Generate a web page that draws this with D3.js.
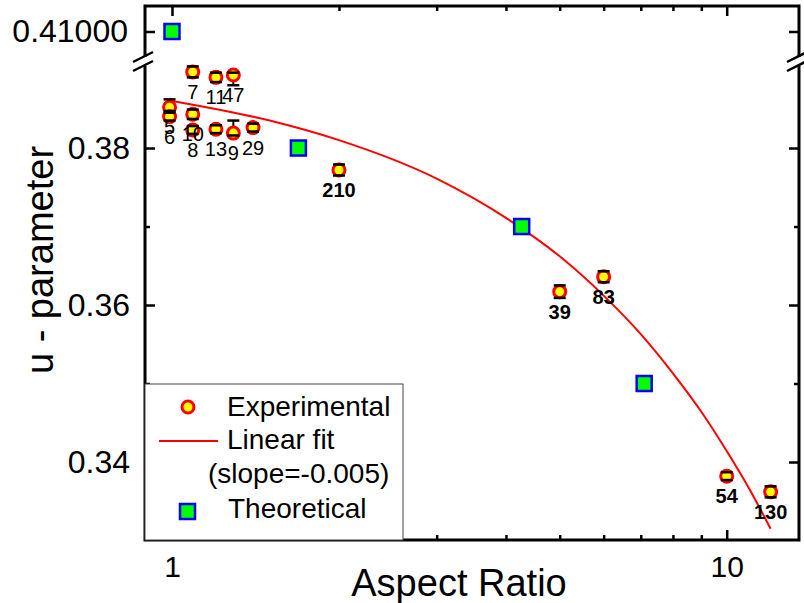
<!DOCTYPE html>
<html>
<head>
<meta charset="utf-8">
<script src="https://cdn.jsdelivr.net/npm/d3@7"></script>
<style>
  body { margin: 0; background: #fff; }
  text { font-family: "Liberation Sans", Arial, sans-serif; fill: #000; }
</style>
</head>
<body>
<svg id="chart" width="804" height="603"></svg>
<script>
// experimental points: aspect ratio, u-parameter, error bars, sample label
const expRatio = [0.99, 0.99, 1.09, 1.09, 1.09, 1.2, 1.29, 1.2, 1.29, 1.4, 2.0, 5.0, 6.0, 10.0, 12.0];
const expU = [0.3852, 0.3840, 0.3843, 0.3823, 0.3897, 0.3890, 0.3893, 0.3824, 0.3819, 0.3826, 0.3772, 0.3617, 0.3636, 0.3382, 0.3362];
const expErrUp = [0.0010, 0.0005, 0.0006, 0.0005, 0.0007, 0.0006, 0.0003, 0.0005, 0.0016, 0.0005, 0.0007, 0.0008, 0.0007, 0.0005, 0.0007];
const expErrDown = [0.0005, 0.0005, 0.0006, 0.0005, 0.0007, 0.0006, 0.0013, 0.0005, 0.0003, 0.0005, 0.0007, 0.0008, 0.0007, 0.0005, 0.0007];
const expLabels = ['5', '6', '10', '8', '7', '11', '47', '13', '9', '29', '210', '39', '83', '54', '130'];

// theoretical points
const theoRatio = [1.0, 1.69, 4.27, 7.1];
const theoU = [0.41, 0.38, 0.37, 0.35];

// linear fit (slope = -0.005)
const fitRatio = [1, 1.5, 2, 3, 4, 5, 6, 7, 8, 9, 10, 11, 12];
const fitU = [0.3860, 0.3835, 0.3810, 0.3761, 0.3711, 0.3662, 0.3612, 0.3563, 0.3513, 0.3464, 0.3414, 0.3365, 0.3315];

const xMajorTicks = [1, 10];
const xMinorTicks = [2, 3, 4, 5, 6, 7, 8, 9];
const yMajorTicks = [0.34, 0.36, 0.38];
const yMinorTicks = [0.35, 0.37];
const yUpperTicks = [0.41];

const svg = d3.select('#chart');
const plotLeft = 145;
const plotRight = 799;
const plotTop = 6;
const plotBottom = 540;
const breakTop = 57;
const breakBottom = 66;

const x = d3.scaleLog().domain([0.894, 13.5]).range([plotLeft, plotRight]);
const yLower = d3.scaleLinear().domain([0.33, 0.3905]).range([plotBottom + 0.5, breakBottom - 0.4]);
const yUpper = d3.scaleLinear().domain([0.4068, 0.4132]).range([breakTop, plotTop]);
const yPos = v => (v > 0.4 ? yUpper(v) : yLower(v));

// ticks (inward), labels on the left and bottom
function cleanAxis(size) {
  return g => {
    g.select('.domain').remove();
    g.selectAll('.tick line').attr('stroke', '#000').attr('stroke-width', 2.5);
    g.selectAll('.tick text').style('font-size', size).attr('fill', '#000');
  };
}
svg.append('g').attr('transform', `translate(0,${plotBottom})`)
  .call(d3.axisBottom(x).tickValues(xMajorTicks).tickFormat(d3.format('d')).tickSizeInner(-10).tickSizeOuter(0).tickPadding(16))
  .call(cleanAxis('30px'));
svg.append('g').attr('transform', `translate(0,${plotBottom})`)
  .call(d3.axisBottom(x).tickValues(xMinorTicks).tickFormat('').tickSizeInner(-5).tickSizeOuter(0))
  .call(cleanAxis('30px'));
svg.append('g').attr('transform', `translate(0,${plotTop})`)
  .call(d3.axisTop(x).tickValues(xMajorTicks).tickFormat('').tickSizeInner(-10).tickSizeOuter(0))
  .call(cleanAxis('30px'));
svg.append('g').attr('transform', `translate(0,${plotTop})`)
  .call(d3.axisTop(x).tickValues(xMinorTicks).tickFormat('').tickSizeInner(-5).tickSizeOuter(0))
  .call(cleanAxis('30px'));

svg.append('g').attr('transform', `translate(${plotLeft},0)`)
  .call(d3.axisLeft(yLower).tickValues(yMajorTicks).tickFormat(d3.format('.2f')).tickSizeInner(-10).tickSizeOuter(0).tickPadding(15))
  .call(cleanAxis('32px'));
svg.append('g').attr('transform', `translate(${plotLeft},0)`)
  .call(d3.axisLeft(yLower).tickValues(yMinorTicks).tickFormat('').tickSizeInner(-5).tickSizeOuter(0))
  .call(cleanAxis('32px'));
svg.append('g').attr('transform', `translate(${plotLeft},0)`)
  .call(d3.axisLeft(yUpper).tickValues(yUpperTicks).tickFormat(d3.format('.5f')).tickSizeInner(-10).tickSizeOuter(0).tickPadding(17))
  .call(cleanAxis('32px'));
svg.append('g').attr('transform', `translate(${plotRight},0)`)
  .call(d3.axisRight(yLower).tickValues(yMajorTicks).tickFormat('').tickSizeInner(-10).tickSizeOuter(0))
  .call(cleanAxis('32px'));
svg.append('g').attr('transform', `translate(${plotRight},0)`)
  .call(d3.axisRight(yLower).tickValues(yMinorTicks).tickFormat('').tickSizeInner(-5).tickSizeOuter(0))
  .call(cleanAxis('32px'));
svg.append('g').attr('transform', `translate(${plotRight},0)`)
  .call(d3.axisRight(yUpper).tickValues(yUpperTicks).tickFormat('').tickSizeInner(-10).tickSizeOuter(0))
  .call(cleanAxis('32px'));

// frame with broken vertical axes
const frame = svg.append('g').attr('stroke', '#000').attr('stroke-width', 3).attr('fill', 'none');
frame.append('path').attr('d', `M${plotLeft},${breakTop}V${plotTop}H${plotRight}V${breakTop}`);
frame.append('path').attr('d', `M${plotLeft},${breakBottom}V${plotBottom}H${plotRight}V${breakBottom}`);
[plotLeft, plotRight].forEach(ax => {
  [breakTop, breakBottom].forEach(by => {
    frame.append('line')
      .attr('x1', ax - 12).attr('y1', by + 5)
      .attr('x2', ax + 8).attr('y2', by - 5)
      .attr('stroke-width', 2.5);
  });
});

// legend box
svg.append('rect')
  .attr('x', plotLeft).attr('y', 384)
  .attr('width', 258).attr('height', plotBottom - 384)
  .attr('fill', '#fff').attr('stroke', '#444').attr('stroke-width', 1);

// fit line
svg.append('path')
  .datum(fitRatio.map((r, i) => [r, fitU[i]]))
  .attr('fill', 'none')
  .attr('stroke', '#ff0000')
  .attr('stroke-width', 2)
  .attr('d', d3.line().x(d => x(d[0])).y(d => yLower(d[1])).curve(d3.curveMonotoneX));

// experimental points with error bars
const expData = expRatio.map((r, i) => ({
  r, u: expU[i], up: expErrUp[i], down: expErrDown[i], label: expLabels[i]
}));
const expG = svg.append('g');
expG.selectAll('line.stem').data(expData).join('line')
  .attr('class', 'stem')
  .attr('x1', d => x(d.r)).attr('x2', d => x(d.r))
  .attr('y1', d => yPos(d.u + d.up)).attr('y2', d => yPos(d.u - d.down))
  .attr('stroke', '#000').attr('stroke-width', 2);
expG.selectAll('circle').data(expData).join('circle')
  .attr('cx', d => x(d.r)).attr('cy', d => yPos(d.u))
  .attr('r', 6)
  .attr('fill', '#ffff00').attr('stroke', '#ff0000').attr('stroke-width', 3);
['up', 'down'].forEach(side => {
  expG.selectAll(`line.cap-${side}`).data(expData).join('line')
    .attr('class', `cap-${side}`)
    .attr('x1', d => x(d.r) - 6).attr('x2', d => x(d.r) + 6)
    .attr('y1', d => yPos(side === 'up' ? d.u + d.up : d.u - d.down))
    .attr('y2', d => yPos(side === 'up' ? d.u + d.up : d.u - d.down))
    .attr('stroke', '#000').attr('stroke-width', 2.5);
});
expG.selectAll('text').data(expData).join('text')
  .attr('x', d => x(d.r)).attr('y', d => yPos(d.u) + 27)
  .attr('text-anchor', 'middle')
  .style('font-size', '20px')
  .style('font-weight', d => (d.r >= 2 ? 'bold' : 'normal'))
  .text(d => d.label);

// theoretical points
svg.append('g').selectAll('rect')
  .data(theoRatio.map((r, i) => ({ r, u: theoU[i] })))
  .join('rect')
  .attr('x', d => x(d.r) - 7.5).attr('y', d => yPos(d.u) - 7.5)
  .attr('width', 15).attr('height', 15)
  .attr('fill', '#00ff00').attr('stroke', '#0000ff').attr('stroke-width', 2.5);

// legend entries
const legend = svg.append('g');
legend.append('circle').attr('cx', 188).attr('cy', 407).attr('r', 6)
  .attr('fill', '#ffff00').attr('stroke', '#ff0000').attr('stroke-width', 3);
legend.append('line').attr('x1', 159).attr('x2', 218).attr('y1', 441).attr('y2', 441)
  .attr('stroke', '#ff0000').attr('stroke-width', 2);
legend.append('rect').attr('x', 180).attr('y', 504).attr('width', 15).attr('height', 15)
  .attr('fill', '#00ff00').attr('stroke', '#0000ff').attr('stroke-width', 2.5);
[['Experimental', 227, 416], ['Linear fit', 227, 449], ['(slope=-0.005)', 208, 483], ['Theoretical', 228, 518]]
  .forEach(([t, tx, ty]) => {
    legend.append('text').attr('x', tx).attr('y', ty).style('font-size', '28px').text(t);
  });

// axis titles
svg.append('text')
  .attr('x', 459).attr('y', 596)
  .attr('text-anchor', 'middle')
  .style('font-size', '38px')
  .text('Aspect Ratio');
svg.append('text')
  .attr('transform', 'translate(53,260) rotate(-90)')
  .attr('text-anchor', 'middle')
  .style('font-size', '38px')
  .text('u - parameter');
</script>
</body>
</html>
